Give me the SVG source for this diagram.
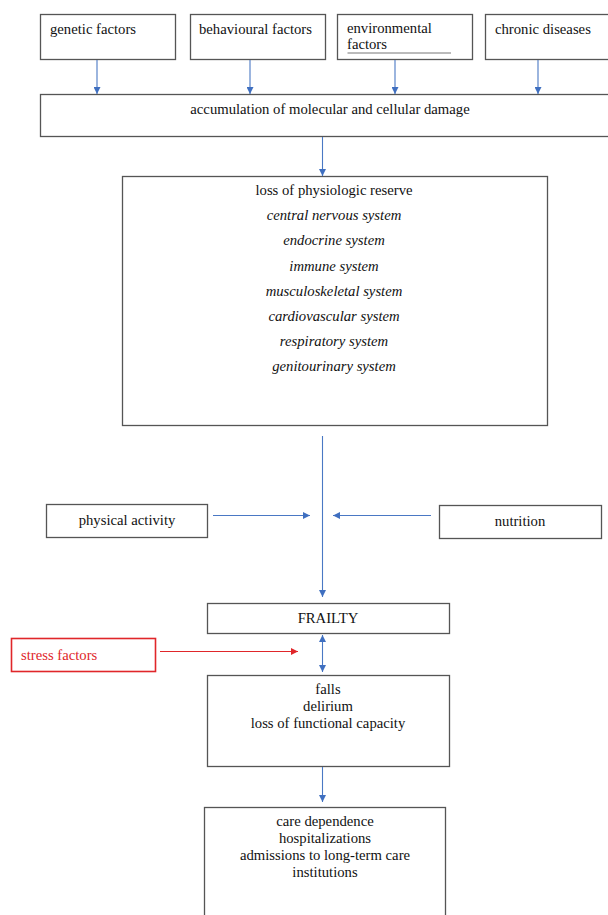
<svg xmlns="http://www.w3.org/2000/svg" width="608" height="915" viewBox="0 0 608 915">
<defs>
<style>
.box{fill:#fff;stroke:#555;stroke-width:1.3}
.red{fill:#fff;stroke:#e0262a;stroke-width:1.6}
.t{font-size:14.7px;fill:#111}
.c{text-anchor:middle}
.i{font-style:italic}
.con{stroke:#4a78c4;stroke-width:1.1;fill:none}
.conr{stroke:#e0262a;stroke-width:1.1;fill:none}
</style>
<marker id="ah" viewBox="0 0 10 10" refX="10" refY="5" markerWidth="7" markerHeight="7" markerUnits="userSpaceOnUse" orient="auto-start-reverse">
<path d="M0,0 L10,5 L0,10 z" fill="#3f6fc0"/>
</marker>
<marker id="ahr" viewBox="0 0 10 10" refX="10" refY="5" markerWidth="7" markerHeight="7" markerUnits="userSpaceOnUse" orient="auto">
<path d="M0,0 L10,5 L0,10 z" fill="#e0262a"/>
</marker>
</defs>
<rect width="608" height="915" fill="#fff"/>
<g font-family="'Liberation Serif', 'Times New Roman', 'DejaVu Serif', serif">
<g id="genetic"><rect class="box" x="40.5" y="14.5" width="135" height="45"/><text class="t" x="50" y="34">genetic factors</text></g>
<g id="behavioural"><rect class="box" x="190.5" y="14.5" width="135" height="45"/><text class="t" x="199" y="34">behavioural factors</text></g>
<g id="environmental"><rect class="box" x="337.5" y="14.5" width="135" height="45"/><text class="t" x="347" y="33">environmental</text><text class="t" x="347" y="49">factors</text><line x1="347.5" y1="53" x2="451" y2="53" stroke="#777" stroke-width="1"/></g>
<g id="chronic"><rect class="box" x="485.5" y="14.5" width="130" height="45"/><text class="t" x="495" y="34">chronic diseases</text></g>
<g id="accumulation"><rect class="box" x="40.5" y="94.5" width="575" height="42"/><text class="t c" x="330" y="114">accumulation of molecular and cellular damage</text></g>
<g id="reserve"><rect class="box" x="122.5" y="176.5" width="425" height="249"/>
<text class="t c" x="334" y="195">loss of physiologic reserve</text>
<text class="t c i" x="334" y="220">central nervous system</text>
<text class="t c i" x="334" y="245">endocrine system</text>
<text class="t c i" x="334" y="271">immune system</text>
<text class="t c i" x="334" y="296">musculoskeletal system</text>
<text class="t c i" x="334" y="321">cardiovascular system</text>
<text class="t c i" x="334" y="346">respiratory system</text>
<text class="t c i" x="334" y="371">genitourinary system</text>
</g>
<g id="physical"><rect class="box" x="46.5" y="504.5" width="161" height="33"/><text class="t c" x="127" y="525">physical activity</text></g>
<g id="nutrition"><rect class="box" x="439.5" y="505.5" width="162" height="33"/><text class="t c" x="520" y="526">nutrition</text></g>
<g id="frailty"><rect class="box" x="207.5" y="603.5" width="242" height="30"/><text class="t c" x="328" y="623">FRAILTY</text></g>
<g id="stress"><rect class="red" x="11.5" y="638.5" width="144" height="33"/><text class="t" x="21" y="660" style="fill:#e0262a">stress factors</text></g>
<g id="outcomes"><rect class="box" x="207.5" y="675.5" width="242" height="91"/>
<text class="t c" x="328" y="694">falls</text>
<text class="t c" x="328" y="711">delirium</text>
<text class="t c" x="328" y="728">loss of functional capacity</text>
</g>
<g id="consequences"><rect class="box" x="204.5" y="807.5" width="241" height="120"/>
<text class="t c" x="325" y="826">care dependence</text>
<text class="t c" x="325" y="843">hospitalizations</text>
<text class="t c" x="325" y="860">admissions to long-term care</text>
<text class="t c" x="325" y="877">institutions</text>
</g>
</g>
<g id="connectors">
<line class="con" x1="97" y1="60" x2="97" y2="94" marker-end="url(#ah)"/>
<line class="con" x1="250" y1="60" x2="250" y2="94" marker-end="url(#ah)"/>
<line class="con" x1="395" y1="60" x2="395" y2="94" marker-end="url(#ah)"/>
<line class="con" x1="538" y1="60" x2="538" y2="94" marker-end="url(#ah)"/>
<line class="con" x1="322.5" y1="137" x2="322.5" y2="176" marker-end="url(#ah)"/>
<line class="con" x1="322.5" y1="436" x2="322.5" y2="597" marker-end="url(#ah)"/>
<line class="con" x1="213" y1="515.5" x2="310" y2="515.5" marker-end="url(#ah)"/>
<line class="con" x1="431" y1="515.5" x2="333" y2="515.5" marker-end="url(#ah)"/>
<line class="con" x1="322.5" y1="635" x2="322.5" y2="672" marker-start="url(#ah)" marker-end="url(#ah)"/>
<line class="conr" x1="160" y1="651.5" x2="298" y2="651.5" marker-end="url(#ahr)"/>
<line class="con" x1="322.5" y1="767" x2="322.5" y2="802" marker-end="url(#ah)"/>
</g>
</svg>
